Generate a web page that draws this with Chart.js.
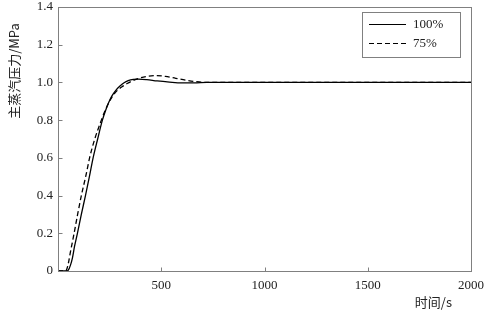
<!DOCTYPE html>
<html><head><meta charset="utf-8">
<script src="https://cdn.jsdelivr.net/npm/chart.js@4/dist/chart.umd.min.js"></script>
<style>html,body{margin:0;padding:0;background:#fff}#wrap{width:493px;height:315px}</style>
</head><body><div id="wrap"><canvas id="c" width="493" height="315"></canvas></div>
<script>
// Series 100%
const tSolid = [0, 40, 50, 60, 70, 80, 94, 113, 133, 152, 170, 192, 215, 230, 246, 262, 280, 300, 320, 340, 365, 390, 430, 480, 540, 600, 660, 720, 1000, 1500, 2000];
const vSolid = [0, 0, 0.005, 0.03, 0.07, 0.13, 0.20, 0.30, 0.40, 0.50, 0.60, 0.70, 0.80, 0.85, 0.895, 0.93, 0.958, 0.981, 0.998, 1.009, 1.016, 1.018, 1.015, 1.008, 1.002, 0.998, 0.998, 1.0, 1.0, 1.0, 1.0];
// Series 75%
const tDash = [0, 35, 41, 50, 60, 70, 78, 95, 113, 134, 153, 178, 210, 228, 246, 264, 285, 310, 335, 360, 390, 430, 475, 520, 570, 620, 670, 720, 1000, 1500, 2000];
const vDash = [0, 0, 0.005, 0.04, 0.10, 0.155, 0.20, 0.30, 0.40, 0.50, 0.60, 0.70, 0.80, 0.85, 0.893, 0.927, 0.955, 0.977, 0.994, 1.008, 1.021, 1.032, 1.036, 1.032, 1.022, 1.012, 1.004, 1.0, 1.0, 1.0, 1.0];
const seriesNames = ['100%', '75%'];
const xTicks = [0, 500, 1000, 1500, 2000];
const yTicks = [0, 0.2, 0.4, 0.6, 0.8, 1.0, 1.2, 1.4];
const xTitle = '时间/s';
const yTitle = '主蒸汽压力/MPa';

const FONT = "'Liberation Serif', 'Noto Sans CJK SC', serif";
const CJK = "'Noto Sans CJK SC', 'Liberation Serif', serif";
const AX = '#808080';

const toPts = (ts, vs) => ts.map((t, i) => ({x: t, y: vs[i]}));

const deco = {
  id: 'deco',
  afterDraw(chart) {
    const ctx = chart.ctx, a = chart.chartArea;
    const xs = chart.scales.x, ys = chart.scales.y;
    const L = Math.round(a.left) + 0.5, R = Math.round(a.right) + 0.5;
    const T = Math.round(a.top) + 0.5, B = Math.round(a.bottom) + 0.5;
    ctx.save();
    ctx.strokeStyle = AX; ctx.lineWidth = 1; ctx.setLineDash([]);
    ctx.strokeRect(L, T, R - L, B - T);
    // inward ticks
    ctx.beginPath();
    xTicks.forEach(v => { const p = Math.round(xs.getPixelForValue(v)) + 0.5; ctx.moveTo(p, B); ctx.lineTo(p, B - 4); });
    yTicks.forEach(v => { const p = Math.round(ys.getPixelForValue(v)) + 0.5; ctx.moveTo(L, p); ctx.lineTo(L + 4, p); });
    ctx.stroke();
    // axis titles
    ctx.fillStyle = '#222';
    ctx.font = "13px " + CJK;
    ctx.textBaseline = 'middle';
    ctx.textAlign = 'right';
    ctx.fillText(xTitle, 452, 302);
    ctx.save();
    ctx.translate(14, 71);
    ctx.rotate(-Math.PI / 2);
    ctx.textAlign = 'center';
    ctx.fillText(yTitle, 0, 0);
    ctx.restore();
    // legend
    ctx.strokeStyle = AX;
    ctx.strokeRect(362.5, 12.5, 98, 45);
    chart.data.datasets.forEach((ds, i) => {
      const y = 24 + i * 19;
      ctx.strokeStyle = '#000'; ctx.lineWidth = 1.2;
      ctx.setLineDash(ds.borderDash || []);
      ctx.beginPath(); ctx.moveTo(369, y + 0.5); ctx.lineTo(406, y + 0.5); ctx.stroke();
      ctx.setLineDash([]);
      ctx.fillStyle = '#222';
      ctx.font = "13px " + FONT;
      ctx.textAlign = 'left';
      ctx.fillText(ds.label, 413, y + 1);
    });
    ctx.restore();
  }
};

new Chart(document.getElementById('c'), {
  type: 'line',
  data: {
    datasets: [
      {label: seriesNames[0], data: toPts(tSolid, vSolid), borderColor: '#000', borderWidth: 1.3, pointRadius: 0, cubicInterpolationMode: 'monotone', fill: false},
      {label: seriesNames[1], data: toPts(tDash, vDash), borderColor: '#000', borderWidth: 1.3, borderDash: [5, 3], pointRadius: 0, cubicInterpolationMode: 'monotone', fill: false}
    ]
  },
  options: {
    responsive: false, animation: false,
    layout: {padding: {top: 0, right: 22, left: 0, bottom: 0}},
    plugins: {legend: {display: false}, tooltip: {enabled: false}},
    scales: {
      x: {
        type: 'linear', min: 0, max: 2000,
        afterBuildTicks: s => { s.ticks = xTicks.map(v => ({value: v})); },
        afterFit: s => { s.height = 44; },
        grid: {display: false, drawTicks: false},
        border: {display: false},
        ticks: {padding: 7, color: '#222', font: {family: FONT, size: 13}, maxRotation: 0, autoSkip: false,
          callback: v => v === 0 ? '' : String(v)}
      },
      y: {
        min: 0, max: 1.4,
        afterBuildTicks: s => { s.ticks = yTicks.map(v => ({value: v})); },
        afterFit: s => { s.width = 58; s.paddingTop = 7; s.paddingBottom = 0; },
        grid: {display: false, drawTicks: false},
        border: {display: false},
        ticks: {padding: 5, color: '#222', font: {family: FONT, size: 13}, autoSkip: false,
          callback: v => v === 0 ? '0' : Number(v).toFixed(1)}
      }
    }
  },
  plugins: [deco]
});
</script></body></html>
